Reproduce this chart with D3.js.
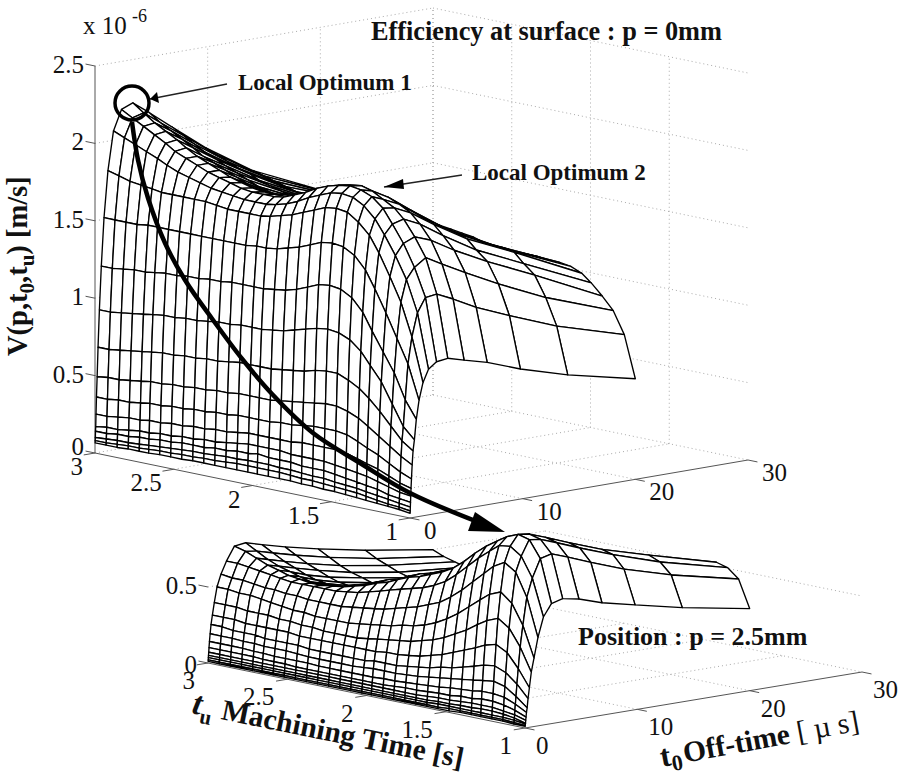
<!DOCTYPE html>
<html><head><meta charset="utf-8"><style>html,body{margin:0;background:#fff}svg{display:block}text{font-family:"Liberation Serif","Times New Roman",Times,serif;fill:#111}</style>
<script src="https://cdn.jsdelivr.net/npm/d3@7/dist/d3.min.js"></script></head><body><svg id="c" width="904" height="776"></svg>
<script>
// machining time samples (s), off-time samples (µs), values in 1e-8 m/s
const tuValues=[3.00,2.93,2.86,2.79,2.72,2.66,2.59,2.52,2.45,2.38,2.31,2.24,2.17,2.10,2.03,1.97,1.90,1.83,1.76,1.69,1.62,1.55,1.48,1.41,1.34,1.28,1.21,1.14,1.07,1.00];
const t0Values=[0.015,0.02,0.03,0.045,0.065,0.09,0.13,0.19,0.27,0.39,0.56,0.8,1.15,1.64,2.35,3.35,4.8,6.85,9.8,14,20];
const zTicksTop=[0,0.5,1,1.5,2,2.5];
const zTicksLow=[0,0.5];
const tuTicks=[3,2.5,2,1.5,1];
const t0Ticks=[0,10,20,30];
const surfaceTop=[
[6.5,6.5,6.5,7,7,7,7.5,7.5,7.5,8,8,8,8,8,8,8,8,8,8,7.5,7.5,7,7,6.5,6,5.5,5,4.5,4,3],
[8,8,8.5,9,9,9.5,10,10,10.5,10.5,11,11,11.5,12,12,12,12,12,11.5,11,11,10.5,10,9.5,9,8,7,6,5.5,4.5],
[10,10.5,11,11,11.5,12,12.5,13,13.5,14,14,14.5,15,15,15.5,15.5,15.5,15,15,14.5,14,14,13,12.5,12,11,10,9,8,7],
[14,14,15,15,16,16,17,17,18,18,18,19,19,20,20,21,20,20,20,19,19,19,18,17,16,15,14,12,11,10],
[17,18,18,19,20,20,21,21,22,22,23,23,24,25,26,26,26,26,25,25,25,25,24,23,22,21,19,17,15,14],
[25,25,26,27,27,28,28,29,29,30,30,31,31,32,33,33,33,33,33,34,34,34,34,33,31,29,27,24,21,19],
[36,36,37,37,38,39,39,40,40,41,41,42,42,43,43,43,43,44,44,45,46,46,46,45,42,39,36,32,28,25],
[49,50,50,51,52,53,53,54,54,55,55,56,56,57,57,57,57,58,59,60,61,62,62,60,57,53,48,43,38,34],
[68,68,69,70,71,72,73,73,74,74,75,75,76,77,77,77,77,78,79,80,82,83,83,80,76,71,64,56,48,43],
[92,92,93,94,95,96,97,97,98,98,99,100,100,101,101,101,102,103,105,107,109,110,109,106,100,92,83,70,57,50],
[120,120,121,122,122,123,124,124,125,125,126,126,127,127,127,127,128,129,131,134,137,138,137,133,125,114,102,90,74,63],
[151,151,151,151,152,152,152,152,152,152,152,152,152,152,153,153,154,156,158,161,164,165,164,160,152,141,127,112,97,75],
[181,179,177,176,175,174,174,174,174,174,173,172,172,172,172,173,175,177,180,183,186,187,186,181,174,164,150,135,114,86],
[206,203,200,197,194,191,188,186,184,182,181,180,179,179,179,180,182,185,189,192,195,196,195,191,184,175,163,149,129,94],
[219,215,211,207,203,199,196,193,190,188,186,184,183,183,183,184,187,190,194,197,199,200,199,196,190,181,170,156,138,98],
[222,217,212,208,204,200,196,193,190,187,185,183,182,182,183,184,187,190,193,196,198,199,197,193,189,183,173,161,139,99],
[214,209,205,201,197,193,190,187,184,181,179,177,177,177,177,178,180,183,186,189,190,191,191,188,184,178,169,155,134,96],
[202,198,194,190,187,184,181,178,175,173,171,169,168,168,168,168,170,172,174,176,178,180,180,177,174,168,160,147,126,92],
[185,182,179,176,174,171,169,167,165,163,162,160,159,158,158,158,158,159,160,161,163,165,165,163,161,155,149,136,117,84],
[165,163,161,159,157,156,154,153,151,150,149,148,147,147,147,147,147,147,147,148,148,149,149,148,147,141,135,122,105,75],
[145,144,143,143,142,141,141,140,140,139,139,138,137,136,135,133,132,132,131,131,131,130,130,129,126,121,114,106,92,65]];
const surfaceLow=[
[1,1,1,1,1,1,1,1,1,1,1,1,1,1,1,1,1,1,1,1,1,1,1,1.5,1.5,1.5,1.5,1.5,1,1],
[2,2,2,2,2,2,2,2,2,2,2,2,2,2,2,2,2,2,2,2,2,2,2.5,2.5,2.5,2.5,2.5,2.5,2,1.5],
[3.5,3.5,3.5,3.5,3.5,3.5,3.5,3.5,3.5,3.5,3.5,3.5,3.5,3.5,3.5,3.5,3.5,3.5,3.5,3.5,3.5,4,4,4,4,4,4,4,3.5,2.5],
[5,5,5,5,5,5,5,5,5,5,5,5,5,5,5,5,5,5,5,5,5,5.5,5.5,6,6,6.5,6.5,6,5,3],
[7,7,7,7,7,7,7,7,7,7,7,7,7,7,7,7,7,7,7,7,7.5,8,8,8.5,9,9,9,8,7,5],
[10,10,10,10,10,9.5,9.5,9.5,9,9,9,9,9,9,9,9,9,9.5,10,10,10.5,11,11,12,12,13,13,12,10,7],
[14,14,14,14,13.5,13.5,13,13,13,13,12.5,12.5,12.5,12.5,12.5,12.5,13,13,13.5,14,14.5,15,16,16.5,17,18,18,17,14,10],
[19,19,19,18.5,18.5,18,18,18,17.5,17,17,17,17,17,17.5,18,18,18,18.5,19,20,21,22,23,24,25,26,24,19,13],
[25,25,24,24,24,23,23,23,23,22,22,22,22,22,22,23,23,23,24,25,26,28,29,31,33,35,36,33,27,19],
[31,31,31,30,30,30,30,30,29,29,29,29,29,29,29,29,30,30,31,32,34,36,39,42,45,48,50,46,37,26],
[39,39,39,38,38,38,37,37,36,36,35,35,35,35,36,37,38,39,40,42,44,47,51,55,60,64,67,62,51,36],
[49,49,48,48,47,46,45,44,44,43,43,43,43,44,45,46,47,49,50,52,55,59,64,70,76,81,84,78,65,45],
[57,56,56,55,54,54,53,53,52,52,52,52,53,54,55,56,58,60,62,65,68,73,79,86,93,99,103,98,83,58],
[65,65,64,63,62,61,60,60,60,60,60,61,62,64,66,68,70,72,74,77,81,87,94,101,107,112,113,108,95,71],
[74,72,69,66,64,62,61,60,60,61,62,64,66,69,71,74,77,79,82,85,89,95,102,108,113,117,120,118,107,79],
[75,71,67,64,62,60,58,58,58,60,62,64,67,70,72,75,78,80,83,86,90,95,101,107,110,115,119,117,109,81],
[72,68,64,61,58,56,55,54,54,55,57,59,62,65,68,71,74,76,79,82,86,91,96,102,108,112,115,113,105,79],
[68,64,60,57,54,52,51,50,50,51,53,55,57,60,63,66,69,72,74,77,81,86,90,95,101,105,109,107,99,74],
[63,59,55,52,50,48,47,46,46,47,48,50,52,55,58,61,64,67,70,72,76,80,84,88,93,97,101,99,91,69],
[57,53,50,47,45,44,43,43,43,44,46,48,50,53,56,59,62,64,67,69,71,74,77,80,84,88,92,89,82,62],
[50,47,45,43,42,42,42,42,42,43,44,46,48,50,52,54,57,60,62,65,67,69,71,73,76,78,80,78,72,54]];

const svg=d3.select('#c');
const line=d3.line();
function chart(o){
  const g=svg.append('g');
  const xTu=d3.scaleLinear([1,3],[0,o.tuDx]),yTu=d3.scaleLinear([1,3],[0,o.tuDy]);
  const xT0=d3.scaleLinear([0,30],[0,o.t0Dx]),yT0=d3.scaleLinear([0,30],[0,o.t0Dy]);
  const zS=d3.scaleLinear([0,1],[0,-o.zPx]);
  const P=(tu,t0,z)=>[o.x+xTu(tu)+xT0(t0),o.y+yTu(tu)+yT0(t0)+zS(z)];
  const zTop=o.zTicks[o.zTicks.length-1];
  const dotted=(a,b)=>g.append('path').attr('d',line([a,b])).attr('fill','none').attr('stroke','#aaa').attr('stroke-width',1).attr('stroke-dasharray','1 3');
  o.zTicks.forEach(z=>{dotted(P(3,0,z),P(3,30,z));dotted(P(3,30,z),P(1,30,z));});
  if(o.verticals){
    t0Ticks.slice(1).forEach(t=>dotted(P(3,t,0),P(3,t,zTop)));
    tuTicks.slice(0,4).forEach(t=>dotted(P(t,30,0),P(t,30,zTop)));
  }
  tuTicks.slice(1,4).forEach(t=>dotted(P(t,0,0),P(t,30,0)));
  t0Ticks.slice(1,3).forEach(t=>dotted(P(1,t,0),P(3,t,0)));
  const solid=(a,b)=>g.append('path').attr('d',line([a,b])).attr('fill','none').attr('stroke','#555').attr('stroke-width',1);
  solid(P(3,0,0),P(1,0,0));solid(P(1,0,0),P(1,30,0));
  if(o.verticals)solid(P(3,0,0),P(3,0,zTop));
  o.zTicks.forEach(z=>solid(P(3,0,z),P(3.06,0,z)));
  tuTicks.forEach(t=>solid(P(t,0,0),P(t,-1,0)));
  t0Ticks.forEach(t=>solid(P(1,t,0),P(0.94,t,0)));
  const cells=[];
  for(let i=0;i<tuValues.length-1;i++)for(let j=t0Values.length-2;j>=0;j--)cells.push([i,j]);
  const v=(i,j)=>P(tuValues[i],t0Values[j],o.data[j][i]/100);
  g.selectAll('path.cell').data(cells).join('path').attr('class','cell')
    .attr('d',([i,j])=>line([v(i,j),v(i+1,j),v(i+1,j+1),v(i,j+1)])+'Z')
    .attr('fill','#fff').attr('stroke','#000').attr('stroke-width',1.35).attr('stroke-linejoin','round');
  const lab=(p,dx,dy,s,anchor)=>g.append('text').attr('x',p[0]+dx).attr('y',p[1]+dy).attr('text-anchor',anchor).attr('font-size',25).text(s);
  o.zTicks.forEach(z=>lab(P(3,0,z),-11,z===0?o.zeroDy:7,z,'end'));
  tuTicks.forEach(t=>lab(P(t,0,0),o.tuLab[0],o.tuLab[1],t,'end'));
  t0Ticks.forEach(t=>lab(P(1,t,0),o.t0Lab[0],o.t0Lab[1],t,'start'));
}
chart({x:410,y:518,tuDx:-315,tuDy:-65,t0Dx:338,t0Dy:-58,zPx:154.8,data:surfaceTop,zTicks:zTicksTop,verticals:true,zeroDy:2,tuLab:[-12,22],t0Lab:[14,21]});
chart({x:525,y:728,tuDx:-317,tuDy:-65,t0Dx:337,t0Dy:-56,zPx:152,data:surfaceLow,zTicks:zTicksLow,verticals:false,zeroDy:10,tuLab:[-13,26],t0Lab:[11,26]});

const txt=(x,y,s,size,w)=>svg.append('text').attr('x',x).attr('y',y).attr('font-size',size).attr('font-weight',w||'bold').text(s);
txt(371,40,'Efficiency at surface : p = 0mm',26.3);
txt(238,90,'Local Optimum 1',23);
txt(472,180,'Local Optimum 2',23);
txt(578,645,'Position : p = 2.5mm',26);
txt(83,34,'x 10',25,'normal');
txt(132,22,'-6',18,'normal');
const yl=svg.append('text').attr('transform','translate(27,356) rotate(-90)').attr('font-size',28.5).attr('font-weight','bold');
yl.append('tspan').text('V(p,t');
yl.append('tspan').attr('dy',7).attr('font-size',21).text('0');
yl.append('tspan').attr('dy',-7).text(',t');
yl.append('tspan').attr('dy',7).attr('font-size',21).text('u');
yl.append('tspan').attr('dy',-7).text(') [m/s]');
const xl=svg.append('text').attr('transform','translate(191,713) rotate(11.5)').attr('font-size',29.5).attr('font-weight','bold');
xl.append('tspan').attr('font-style','italic').attr('font-size',33).text('t');
xl.append('tspan').attr('dy',8).attr('font-size',21).text('u');
xl.append('tspan').attr('dy',-8).attr('dx',9).text('Machining Time [s]');
const ol=svg.append('text').attr('transform','translate(662,767) rotate(-10.5)').attr('font-size',29.5).attr('font-weight','bold');
ol.append('tspan').attr('font-size',31).text('t');
ol.append('tspan').attr('dy',6).attr('font-size',22).text('0');
ol.append('tspan').attr('dy',-6).attr('dx',2).text('Off-time ');
ol.append('tspan').attr('font-weight','normal').text('[ µ s]');

const ink='#000';
svg.append('circle').attr('cx',132).attr('cy',103).attr('r',17).attr('fill','none').attr('stroke',ink).attr('stroke-width',3.5);
const smooth=d3.line().curve(d3.curveCatmullRom);
svg.append('path').attr('d',smooth([[132,122],[138,160],[148,198],[165,243],[185,280],[213,320],[243,360],[273,395],[313,433],[360,463],[410,493],[478,522]])).attr('fill','none').attr('stroke',ink).attr('stroke-width',4.5);
svg.append('path').attr('d',line([[505,532],[475,512],[468,531]])+'Z').attr('fill',ink);
const arrow=(x1,y1,x2,y2,a,b)=>{svg.append('path').attr('d',line([[x1,y1],[x2,y2]])).attr('stroke','#222').attr('stroke-width',1.4);svg.append('path').attr('d',line([[x2,y2],a,b])+'Z').attr('fill',ink);};
arrow(227,84,150,99,[157,92],[159,103]);
arrow(462,175,384,187,[403,179],[404,189]);
</script></body></html>
